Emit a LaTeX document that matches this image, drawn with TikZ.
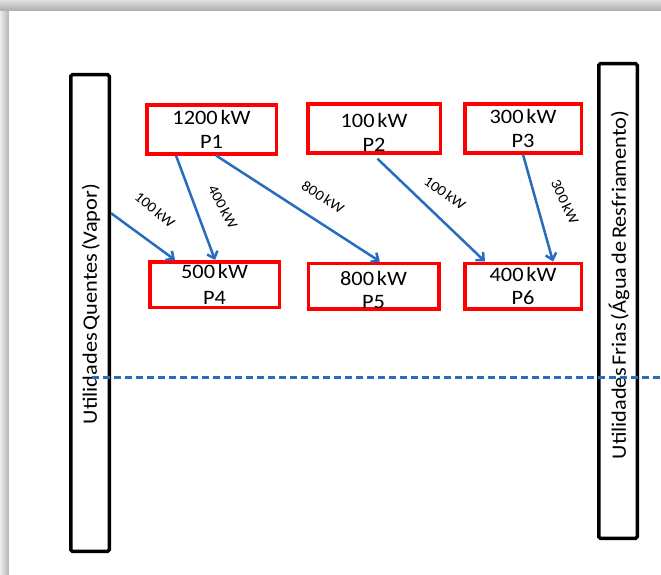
\documentclass[tikz,border=0pt]{standalone}
\usepackage{fontspec}
\setmainfont{Carlito}[FakeStretch=1.09, WordSpace=0.55]
\usetikzlibrary{arrows.meta,calc}
\definecolor{flowblue}{RGB}{40,108,190}
\begin{document}
\begin{tikzpicture}[x=1pt,y=-1pt,
  pbox/.style={draw=red, line width=3.5pt, inner sep=0pt, minimum width=#1},
  ptext/.style={align=center, inner sep=0pt, font=\fontsize{20.5}{23.5}\selectfont},
  ubar/.style={draw=black, line width=3.5pt, rounded corners=1.5pt, inner sep=0pt, minimum width=38.5pt},
  utext/.style={rotate=90, inner sep=0pt, font=\fontsize{20.5}{24}\selectfont},
  flow/.style={draw=flowblue, line width=2.5pt, -{Straight Barb[length=6pt,width=11pt,line width=2.5pt]}},
  flabel/.style={inner sep=0pt, font=\fontsize{14.5}{16}\selectfont}]
\useasboundingbox (0,0) rectangle (661,575);
% shadow frame
\shade[left color=gray!15, right color=gray!60] (0,0) rectangle (9,575);
\shade[top color=gray!25, bottom color=gray!65] (0,0) rectangle (661,11);
\fill[white] (9,11) rectangle (661,575);
% utility bars
\node[ubar, minimum height=476.5pt] (hot) at (90,313) {};
\node[ubar, minimum height=474.5pt] (cold) at (618,301) {};
\node[utext] (hotlabel) at (91,304) {Utilidades Quentes (Vapor)};
\node[utext] (coldlabel) at (619,285) {Utilidades Frias (Água de Resfriamento)};
% process boxes
\node[pbox=129.5pt, minimum height=48.5pt] (P1) at (211.5,129.5) {};
\node[pbox=132.5pt, minimum height=48.5pt] (P2) at (374,128.5) {};
\node[pbox=116.5pt, minimum height=48.5pt] (P3) at (523,128.5) {};
\node[pbox=129.5pt, minimum height=45.5pt] (P4) at (214.5,284.5) {};
\node[pbox=130.5pt, minimum height=45.5pt] (P5) at (373.5,286) {};
\node[pbox=116.5pt, minimum height=45.5pt] (P6) at (523,286) {};
\node[ptext] (t1) at (P1) {1200 kW\\P1};
\node[ptext] (t2) at ($(P2)+(0,4)$) {100 kW\\P2};
\node[ptext] (t3) at (P3) {300 kW\\P3};
\node[ptext, font=\fontsize{20.5}{25.5}\selectfont] (t4) at (P4) {500 kW\\P4};
\node[ptext] (t5) at ($(P5)+(0,4)$) {800 kW\\P5};
\node[ptext] (t6) at (P6) {400 kW\\P6};
% dashed pinch line
\coordinate (dashL) at (92,377);
\coordinate (dashR) at (661,377);
\draw[flowblue, line width=3pt, dash pattern=on 7pt off 4pt] (dashL) -- (dashR);
% heat flows
\draw[flow] ($(hot.north east)!0.292!(hot.south east)$) -- ($(P4.north west)!0.203!(P4.north east)$);
\draw[flow] ($(P1.south west)!0.233!(P1.south east)$) -- ($(P4.north west)!0.504!(P4.north east)$);
\draw[flow] ($(P1.south west)!0.534!(P1.south east)$) -- ($(P5.north west)!0.548!(P5.north east)$);
\draw[flow, shorten <=6pt] ($(P2.south west)!0.493!(P2.south east)$) -- ($(P6.north west)!0.183!(P6.north east)$);
\draw[flow] ($(P3.south west)!0.5!(P3.south east)$) -- ($(P6.north west)!0.75!(P6.north east)$);
% flow labels
\node[flabel, rotate=-40] (l1) at (155,210) {100 kW};
\node[flabel, rotate=-62] (l2) at (223,207) {400 kW};
\node[flabel, rotate=-33] (l3) at (323,197) {800 kW};
\node[flabel, rotate=-35] (l4) at (445,193) {100 kW};
\node[flabel, rotate=-65] (l5) at (565,202) {300 kW};
\end{tikzpicture}
\end{document}
